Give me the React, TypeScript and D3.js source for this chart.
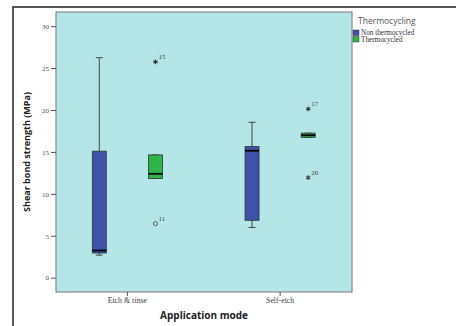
import React from "react";
import * as d3 from "d3";

const categories = ["Etch & rinse", "Self-etch"];
const groups = ["Non thermocycled", "Thermocycled"];
const groupColors = ["#3d53a8", "#2cb64a"];
// [category, group, lowWhisker, q1, median, q3, highWhisker]
const boxStats: [number, number, number, number, number, number, number][] = [
  [0, 0, 2.75, 3.0, 3.3, 15.15, 26.3],
  [0, 1, 11.9, 11.9, 12.45, 14.7, 14.7],
  [1, 0, 6.05, 6.9, 15.2, 15.7, 18.6],
  [1, 1, 16.8, 16.8, 17.05, 17.3, 17.3],
];
// [category, group, value, label, type]
const outliers: [number, number, number, string, string][] = [
  [0, 1, 25.8, "15", "star"],
  [0, 1, 6.5, "11", "circle"],
  [1, 1, 20.2, "17", "star"],
  [1, 1, 12.0, "20", "star"],
];
const yTicks = [0, 5, 10, 15, 20, 25, 30];

const W = 456, H = 326;
const plot = { left: 56, top: 12, right: 352, bottom: 292 };

export default function App() {
  const y = d3.scaleLinear().domain([-1.65, 31.75]).range([plot.bottom, plot.top]);
  const x = d3.scaleBand().domain(categories).range([51, 356.5]);
  const xg = d3.scaleBand().domain(groups).range([0, x.bandwidth()]).paddingInner(0.5).paddingOuter(0.61);
  const bw = 14;
  const cx = (c: number, g: number) => (x(categories[c]) as number) + (xg(groups[g]) as number) + xg.bandwidth() / 2;
  const serif = "'Liberation Serif', 'DejaVu Serif', serif";
  const sans = "'Open Sans', 'DejaVu Sans', sans-serif";
  const star = d3.symbol().type(d3.symbolAsterisk).size(16);

  return (
    <svg width={W} height={H} style={{ position: "absolute", left: 0, top: 0 }}>
      <rect x={0} y={0} width={W} height={H} fill="#fff" />
      <rect x={13} y={7} width={460} height={340} fill="none" stroke="#222" strokeWidth={1.5} />
      <rect x={plot.left} y={plot.top} width={plot.right - plot.left} height={plot.bottom - plot.top}
        fill="#b5e6e7" stroke="#777" strokeWidth={1} />
      {yTicks.map((t) => (
        <g key={t}>
          <line x1={plot.left - 5} x2={plot.left} y1={y(t)} y2={y(t)} stroke="#555" />
          <text x={plot.left - 7} y={y(t)} dy="0.33em" textAnchor="end" fontFamily={serif} fontSize={7} fill="#555">{t}</text>
        </g>
      ))}
      {categories.map((c) => {
        const px = (x(c) as number) + x.bandwidth() / 2;
        return (
          <g key={c}>
            <line x1={px} x2={px} y1={plot.bottom} y2={plot.bottom + 4} stroke="#555" />
            <text x={px} y={plot.bottom + 11} textAnchor="middle" fontFamily={serif} fontSize={7.8} fill="#444">{c}</text>
          </g>
        );
      })}
      {boxStats.map(([c, g, lo, q1, med, q3, hi], i) => {
        const px = cx(c, g);
        return (
          <g key={i}>
            <line x1={px} x2={px} y1={y(hi)} y2={y(q3)} stroke="#444" strokeWidth={1} />
            <line x1={px} x2={px} y1={y(q1)} y2={y(lo)} stroke="#444" strokeWidth={1} />
            <line x1={px - 3.5} x2={px + 3.5} y1={y(hi)} y2={y(hi)} stroke="#444" strokeWidth={1} />
            <line x1={px - 3.5} x2={px + 3.5} y1={y(lo)} y2={y(lo)} stroke="#444" strokeWidth={1} />
            <rect x={px - bw / 2} y={y(q3)} width={bw} height={Math.max(1, y(q1) - y(q3))}
              fill={groupColors[g]} stroke="#333" strokeWidth={0.8} />
            <line x1={px - bw / 2} x2={px + bw / 2} y1={y(med)} y2={y(med)} stroke="#000" strokeWidth={1.8} />
          </g>
        );
      })}
      {outliers.map(([c, g, v, lab, type], i) => {
        const px = cx(c, g);
        return (
          <g key={i}>
            {type === "star" ? (
              <path d={star() as string} transform={`translate(${px},${y(v)})`} stroke="#333" strokeWidth={1.1} fill="none" />
            ) : (
              <circle cx={px} cy={y(v)} r={2} fill="none" stroke="#555" strokeWidth={1} />
            )}
            <text x={px + 3} y={y(v) - 3} fontFamily={serif} fontSize={7} fill="#444">{lab}</text>
          </g>
        );
      })}
      <text transform={`translate(30,${(plot.top + plot.bottom) / 2}) rotate(-90)`} textAnchor="middle"
        fontFamily={sans} fontWeight="bold" fontSize={9} fill="#222">Shear bond strength (MPa)</text>
      <text x={204} y={319} textAnchor="middle" fontFamily={sans} fontWeight="bold" fontSize={10} fill="#222">Application mode</text>
      <text x={358} y={24} fontFamily={sans} fontSize={8.5} fill="#555">Thermocycling</text>
      {groups.map((gName, i) => (
        <g key={gName}>
          <rect x={353} y={30 + i * 6.5} width={6} height={5.5} fill={groupColors[i]} stroke="#333" strokeWidth={0.5} />
          <text x={361} y={35 + i * 6.5} fontFamily={serif} fontSize={7.2} fill="#333">{gName}</text>
        </g>
      ))}
    </svg>
  );
}
